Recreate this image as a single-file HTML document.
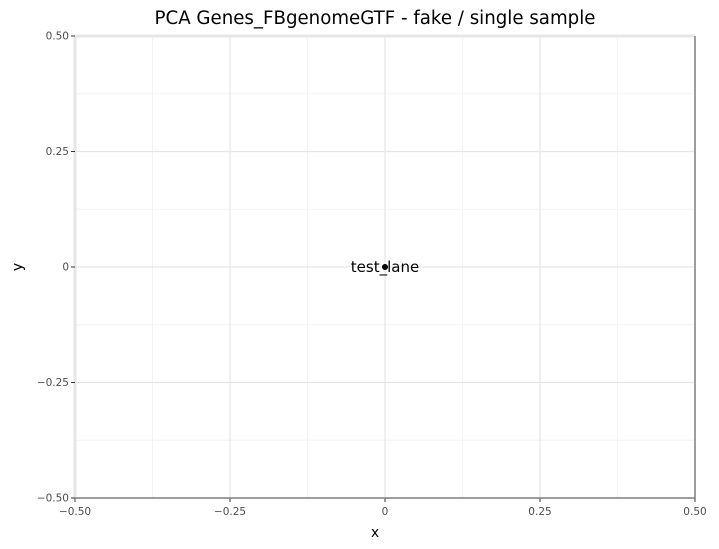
<!DOCTYPE html>
<html><head><meta charset="utf-8"><style>
body{margin:0;background:#fff}svg{display:block;font-family:"DejaVu Sans","Liberation Sans",sans-serif}
</style></head><body>
<svg id="c" width="719" height="549">
<text x="375" y="24" text-anchor="middle" font-size="18.2" fill="#000">PCA Genes_FBgenomeGTF - fake / single sample</text>
<text x="375" y="537" text-anchor="middle" font-size="14">x</text>
<text x="22" y="267" text-anchor="middle" font-size="14" transform="rotate(-90 22 267)">y</text>
</svg>
<script>
const xTicks=[-0.5,-0.25,0,0.25,0.5];
const yTicks=[-0.5,-0.25,0,0.25,0.5];
const xTickLabels=["\u22120.50","\u22120.25","0","0.25","0.50"];
const yTickLabels=["\u22120.50","\u22120.25","0","0.25","0.50"];
const minorTicks=[-0.375,-0.125,0.125,0.375];
const pointsX=[0];
const pointsY=[0];
const pointLabels=["test_lane"];
const L=75,R=695,T=36,B=498;
const sx=v=>L+(v+0.5)*(R-L);
const sy=v=>B-(v+0.5)*(B-T);
const svg=document.getElementById('c');
const NS='http://www.w3.org/2000/svg';
function mk(t,a){const e=document.createElementNS(NS,t);for(const k in a)e.setAttribute(k,a[k]);svg.appendChild(e);return e;}
minorTicks.forEach(v=>{
 let e=mk('line',{x1:sx(v),x2:sx(v),y1:T,y2:B,stroke:'#f3f3f3','stroke-width':1});
 
 
 e=mk('line',{x1:L,x2:R,y1:sy(v),y2:sy(v),stroke:'#f3f3f3','stroke-width':1});
 
 
});
xTicks.forEach((v,i)=>{
 let e=mk('line',{x1:sx(v),x2:sx(v),y1:T,y2:B,stroke:'#e6e6e6','stroke-width':i==0?3:1.2});
 
 
 e=mk('line',{x1:sx(v),x2:sx(v),y1:B,y2:B+4,stroke:'#333'});
 
 
 e=mk('text',{x:sx(v),y:B+17,'text-anchor':'middle','font-size':10.5,fill:'#4d4d4d'});
 e.textContent=xTickLabels[i];
 
 
});
yTicks.forEach((v,i)=>{
 let e=mk('line',{x1:L,x2:R,y1:sy(v),y2:sy(v),stroke:'#e6e6e6','stroke-width':i==4?3:1.2});
 
 
 e=mk('line',{x1:L-4,x2:L,y1:sy(v),y2:sy(v),stroke:'#333'});
 
 
 e=mk('text',{x:L-6,y:sy(v)+3.5,'text-anchor':'end','font-size':10.5,fill:'#4d4d4d'});
 e.textContent=yTickLabels[i];
 
 
});
let ax=mk('path',{d:`M${R},${T} V${B} H${L}`,fill:'none',stroke:'#7f7f7f','stroke-width':1.5});


pointsX.forEach((v,i)=>{
 let e=mk('circle',{cx:sx(v),cy:sy(pointsY[i]),r:3,fill:'#000'});
 
 
 e=mk('text',{x:sx(v),y:sy(pointsY[i])+5,'text-anchor':'middle','font-size':15,fill:'#000'});
 e.textContent=pointLabels[i];
 
 
});
</script>
</body></html>
